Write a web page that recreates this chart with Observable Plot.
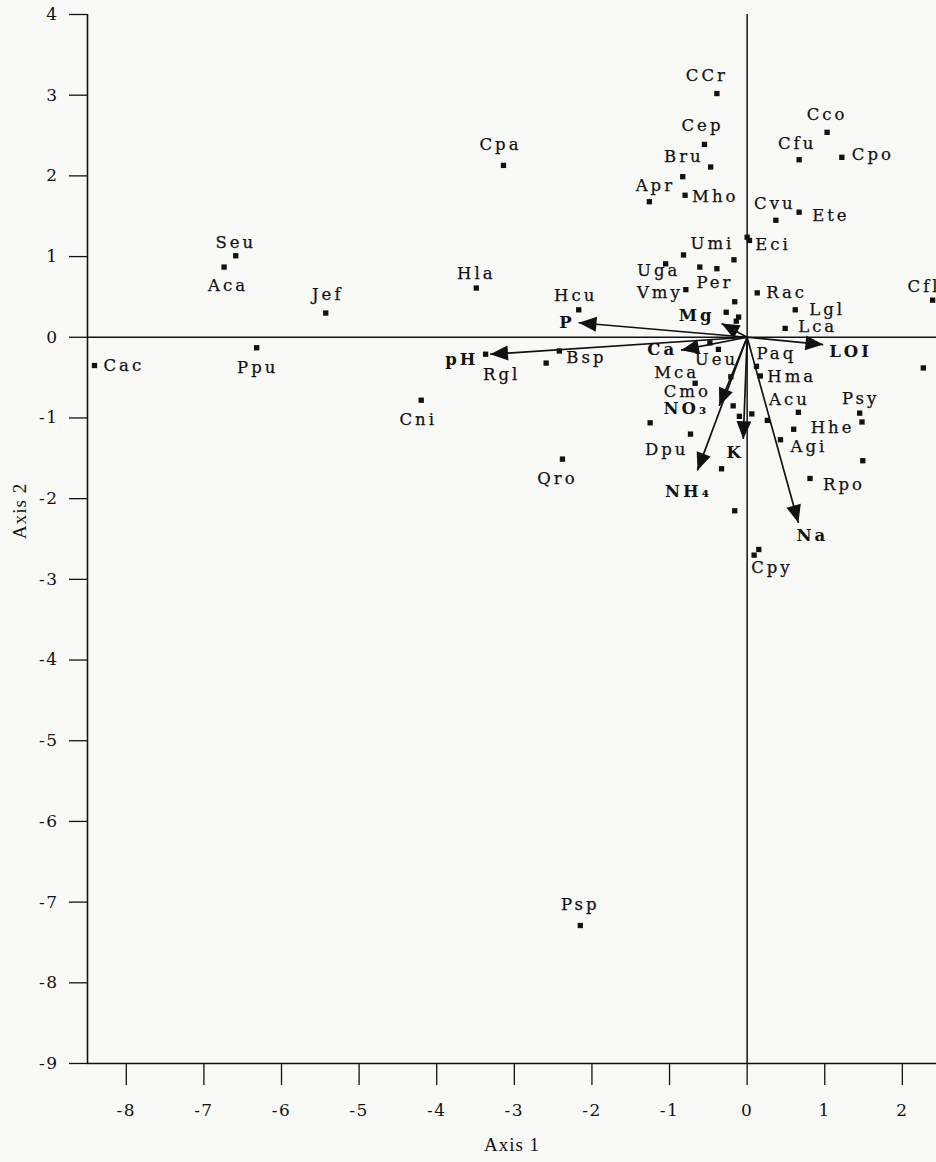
<!DOCTYPE html>
<html>
<head>
<meta charset="utf-8">
<script src="https://cdn.jsdelivr.net/npm/d3@7"></script>
<script src="https://cdn.jsdelivr.net/npm/@observablehq/plot@0.6"></script>
<style>
  html, body { margin: 0; padding: 0; background: #f9f9f8; overflow: hidden; }
  svg { display: block; }
</style>
</head>
<body>
<div id="chart"></div>
<script>
// ---------- data ----------
const species = ["CCr","Cco","Cep","Cfu","Cpo","Bru","Apr","Mho","Cvu","Ete","Eci","Umi","Uga","Per","Vmy","Rac","Hcu","Lgl","Lca","Cfl","Bsp","Rgl","Ueu","Mca","Paq","Hma","Cmo","Acu","Psy","Hhe","Agi","Dpu","Qro","Rpo","Cpy","Psp","Cpa","Seu","Aca","Jef","Hla","Ppu","Cac","Cni"];
const speciesX = [-0.39, 1.03, -0.55, 0.67, 1.22, -0.47, -1.26, -0.80, 0.37, 0.67, 0.00, -0.82, -1.05, -0.39, -0.79, 0.13, -2.17, 0.62, 0.49, 2.39, -2.42, -3.37, -0.37, -0.67, 0.12, 0.17, -0.21, 0.66, 1.45, 0.60, 0.43, -0.73, -2.38, 0.81, 0.09, -2.15, -3.14, -6.59, -6.74, -5.43, -3.49, -6.32, -8.41, -4.20];
const speciesY = [3.02, 2.54, 2.39, 2.20, 2.23, 2.11, 1.68, 1.76, 1.45, 1.55, 1.24, 1.02, 0.91, 0.85, 0.59, 0.55, 0.34, 0.34, 0.11, 0.46, -0.17, -0.21, -0.15, -0.57, -0.36, -0.48, -0.49, -0.93, -0.94, -1.14, -1.27, -1.20, -1.51, -1.75, -2.70, -7.29, 2.13, 1.01, 0.87, 0.30, 0.61, -0.13, -0.35, -0.78];

// unlabelled sample points
const otherX = [-0.83, 0.03, -0.17, -0.61, -0.16, -0.27, -0.11, -0.14, -0.48, -0.18, -0.10, 0.06, -1.25, 0.26, -0.33, -0.16, 0.15, 2.27, 1.48, 1.49, -2.59];
const otherY = [1.99, 1.20, 0.96, 0.87, 0.44, 0.31, 0.25, 0.20, -0.07, -0.85, -0.98, -0.95, -1.06, -1.03, -1.63, -2.15, -2.63, -0.38, -1.05, -1.53, -0.32];

// environmental variables (biplot arrows from the origin)
const variables = ["P", "pH", "Mg", "Ca", "LOI", "NO\u2083", "K", "NH\u2084", "Na"];
const variableX = [-2.17, -3.31, -0.33, -0.85, 0.98, -0.36, -0.05, -0.64, 0.66];
const variableY = [0.18, -0.21, 0.17, -0.16, -0.09, -0.85, -1.26, -1.65, -2.30];

const xTicks = [-8, -7, -6, -5, -4, -3, -2, -1, 0, 1, 2];
const yTicks = [4, 3, 2, 1, 0, -1, -2, -3, -4, -5, -6, -7, -8, -9];
const xTitle = "Axis 1";
const yTitle = "Axis 2";

// ---------- layout ----------
const W = 936, H = 1162;
const mL = 87, mR = 0, mT = 14, mB = 99;
const xDomain = [-8.5, 2.44];
const yDomain = [-9, 4];
const labelFont = "DejaVu Serif";
const ink = "#111";

// label placement relative to each point: [textAnchor, dx, dy]
const speciesLabelPlacement = {
  CCr: ["middle", -10, -18], Cco: ["middle", 0, -18], Cep: ["middle", -2, -19],
  Cfu: ["middle", -2, -16], Cpo: ["start", 10, -3], Bru: ["end", -7, -10],
  Apr: ["middle", 6, -16], Mho: ["start", 7, 1], Cvu: ["middle", -1, -17],
  Ete: ["start", 13, 4], Eci: ["start", 8, 8], Umi: ["start", 7, -11],
  Uga: ["middle", -7, 7], Per: ["middle", -2, 14], Vmy: ["end", -3, 3],
  Rac: ["start", 9, 0], Hcu: ["middle", -3, -14], Lgl: ["start", 14, 0],
  Lca: ["start", 13, -2], Cfl: ["start", -25, -13], Bsp: ["start", 7, 7],
  Rgl: ["middle", 16, 21], Ueu: ["middle", -2, 10], Mca: ["end", 4, -11],
  Paq: ["start", 0, -13], Hma: ["start", 7, 1], Cmo: ["end", -20, 15],
  Acu: ["middle", -9, -13], Psy: ["middle", 1, -14], Hhe: ["start", 17, -2],
  Agi: ["start", 10, 7], Dpu: ["end", -2, 16], Qro: ["middle", -5, 20],
  Rpo: ["start", 13, 6], Cpy: ["start", -3, 13], Psp: ["middle", 0, -21],
  Cpa: ["middle", -3, -21], Seu: ["middle", 0, -13], Aca: ["middle", 4, 19],
  Jef: ["middle", 2, -18], Hla: ["middle", 0, -14], Ppu: ["middle", 1, 20],
  Cac: ["start", 9, 0], Cni: ["middle", -3, 20]
};
const variableLabelPlacement = {
  "P": ["end", -4, 0], "pH": ["end", -12, 6], "Mg": ["end", -7, -8],
  "Ca": ["end", -4, 0], "LOI": ["start", 6, 7], "NO\u2083": ["end", -10, 3],
  "K": ["middle", -8, 14], "NH\u2084": ["middle", -9, 21], "Na": ["middle", 14, 13]
};

// ---------- build ----------
const spData = species.map((name, i) => ({name, x: speciesX[i], y: speciesY[i]}));
const otherData = otherX.map((x, i) => ({x, y: otherY[i]}));
const pointData = spData.concat(otherData);

const kx = (W - mL - mR) / (xDomain[1] - xDomain[0]);
const ky = (H - mT - mB) / (yDomain[1] - yDomain[0]);
const arrowData = variables.map((name, i) => ({
  name, x: variableX[i], y: variableY[i],
  angle: Math.atan2(-variableY[i] * ky, variableX[i] * kx) * 180 / Math.PI
}));

// filled arrowhead, tip at the origin, pointing to +x
const headSymbol = {
  draw(ctx, size) {
    const L = Math.sqrt(size);
    ctx.moveTo(0, 0);
    ctx.lineTo(-L, -0.42 * L);
    ctx.lineTo(-L, 0.42 * L);
    ctx.closePath();
  }
};

const speciesLabelMarks = spData.map(d => {
  const [anchor, dx, dy] = speciesLabelPlacement[d.name];
  return Plot.text([d], {x: "x", y: "y", text: "name", textAnchor: anchor, dx, dy,
    fontFamily: labelFont, fontSize: 16.5, fill: ink, stroke: ink, strokeWidth: 0.25});
});
const variableLabelMarks = arrowData.map(d => {
  const [anchor, dx, dy] = variableLabelPlacement[d.name];
  return Plot.text([d], {x: "x", y: "y", text: "name", textAnchor: anchor, dx, dy,
    fontFamily: labelFont, fontSize: 16.5, fontWeight: "bold", fill: ink});
});

const chart = Plot.plot({
  width: W, height: H,
  marginLeft: mL, marginRight: mR, marginTop: mT, marginBottom: mB,
  x: {domain: xDomain},
  y: {domain: yDomain},
  style: {background: "transparent", color: ink},
  marks: [
    Plot.axisY({ticks: yTicks, tickSize: 18, tickPadding: 11, tickFormat: d => String(d),
      fontFamily: labelFont, fontSize: 17, label: null, strokeWidth: 1.3}),
    Plot.axisX({ticks: xTicks, tickSize: 22, tickPadding: 18, tickFormat: d => String(d),
      fontFamily: labelFont, fontSize: 17, label: null, strokeWidth: 1.3}),
    Plot.ruleX([xDomain[0]], {stroke: ink, strokeWidth: 1.6}),
    Plot.ruleY([yDomain[0]], {stroke: ink, strokeWidth: 1.6}),
    Plot.ruleX([0], {stroke: ink, strokeWidth: 1.5}),
    Plot.ruleY([0], {stroke: ink, strokeWidth: 1.5}),
    Plot.link(arrowData, {x1: () => 0, y1: () => 0, x2: "x", y2: "y", stroke: ink, strokeWidth: 1.7}),
    Plot.dot(arrowData, {x: "x", y: "y", symbol: headSymbol, r: 10, rotate: "angle", fill: ink, stroke: "none"}),
    Plot.dot(pointData, {x: "x", y: "y", symbol: "square", r: 3, fill: ink, stroke: "none"}),
    ...speciesLabelMarks,
    ...variableLabelMarks,
    Plot.text([xTitle], {frameAnchor: "bottom", dy: 87, fontFamily: "Liberation Serif", fontSize: 19, fill: ink}),
    Plot.text([yTitle], {frameAnchor: "left", dx: -68, rotate: -90, fontFamily: "Liberation Serif", fontSize: 19, fill: ink})
  ]
});

// wide, Bookman-like spacing for the labels
const sel = d3.select(chart);
sel.selectAll('g[aria-label="text"] text').style("letter-spacing", "3px");
sel.selectAll('g[aria-label="text"] text')
  .filter(function() { const t = this.textContent; return t === xTitle || t === yTitle; })
  .style("letter-spacing", "1px");
sel.selectAll('g[aria-label="y-axis tick label"], g[aria-label="x-axis tick label"]')
  .attr("font-size", 17).attr("font-family", labelFont).style("letter-spacing", "1.5px");

document.getElementById("chart").appendChild(chart);
</script>
</body>
</html>
